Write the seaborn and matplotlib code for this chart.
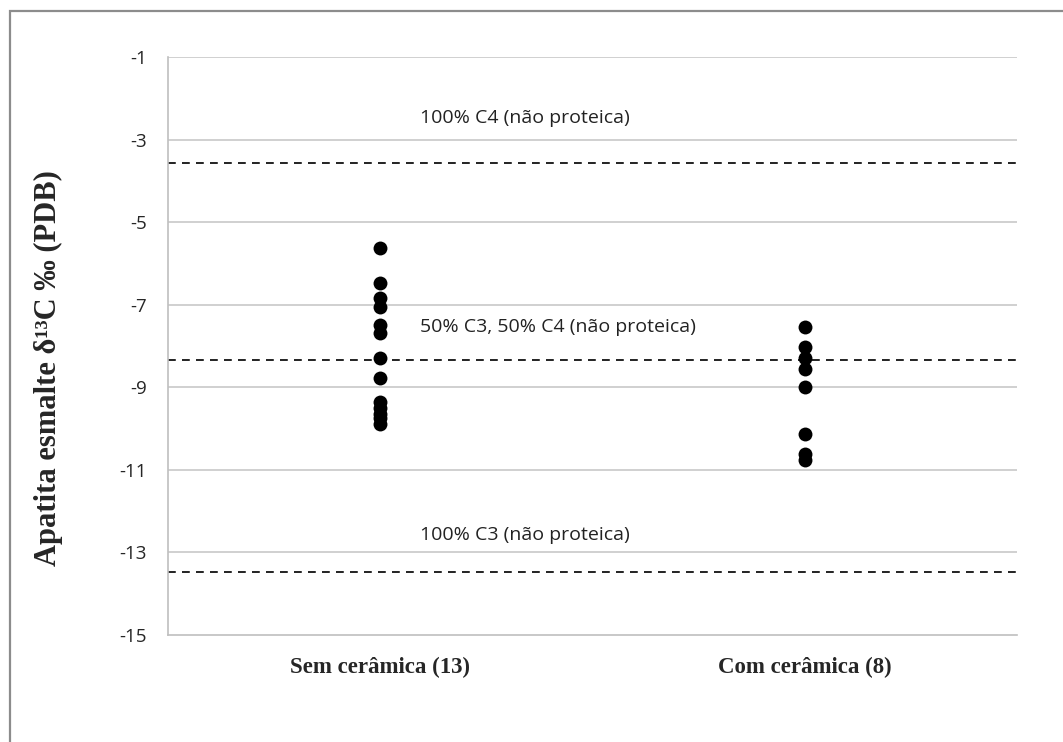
import numpy as np
import pandas as pd
import matplotlib
matplotlib.use('Agg')
import matplotlib.pyplot as plt
from matplotlib.patches import Rectangle
import seaborn as sns

# categories and values
groups = ['Sem cerâmica (13)', 'Com cerâmica (8)']
sem_ceramica = [-5.62, -6.47, -6.84, -7.05, -7.49, -7.68, -8.29, -8.77,
                -9.35, -9.5, -9.65, -9.75, -9.9]
com_ceramica = [-7.54, -8.02, -8.29, -8.55, -8.99, -10.13, -10.61, -10.76]

# reference lines (mixing model) and their labels
ref_values = [-3.56, -8.35, -13.47]
ref_labels = ['100% C4 (não proteica)', '50% C3, 50% C4 (não proteica)',
              '100% C3 (não proteica)']
label_y = [-2.48, -7.55, -12.57]

yticks = [-1, -3, -5, -7, -9, -11, -13, -15]

df = pd.DataFrame({
    'grupo': [groups[0]] * len(sem_ceramica) + [groups[1]] * len(com_ceramica),
    'd13C': sem_ceramica + com_ceramica,
})

sns.set_style('white')

fig = plt.figure(figsize=(10.63, 7.42), dpi=100)
ax = fig.add_axes([0.158, 0.1445, 0.799, 0.7785])

# chart border, cut off at right and bottom like the reference
fig.patches.append(Rectangle((10 / 1063, -0.05), 1.2, 1 - 11 / 742 + 0.05,
                             transform=fig.transFigure, fill=False,
                             edgecolor='#8c8c8c', linewidth=1.6))

for y in yticks[:-1]:
    ax.axhline(y, color='#c8c8c8', linewidth=1.2, zorder=0)

for y, lab, ty in zip(ref_values, ref_labels, label_y):
    ax.axhline(y, color='#222222', linestyle=(0, (4, 3.2)), linewidth=1.4, zorder=1)
    ax.text(0.094, ty, lab, ha='left', va='center', fontsize=14,
            family='Open Sans', color='#222222')

sns.stripplot(data=df, x='grupo', y='d13C', order=groups, jitter=False,
              color='black', size=10, ax=ax, zorder=3)

ax.set_xlim(-0.5, 1.5)
ax.set_ylim(-15, -1)
ax.set_yticks(yticks)
ax.set_yticklabels([str(t) for t in yticks], family='Open Sans', fontsize=13.5)
ax.tick_params(axis='y', length=0, pad=15)
ax.tick_params(axis='x', length=0, pad=16)
for t in ax.get_xticklabels():
    t.set_fontfamily('Liberation Serif')
    t.set_fontweight('bold')
    t.set_fontsize(16.5)

ax.set_xlabel('')
ax.set_ylabel('Apatita esmalte δ¹³C ‰ (PDB)', family='Liberation Serif',
              fontweight='bold', fontsize=22, va='center')
ax.yaxis.set_label_coords(-0.141, 0.461)

for side in ['top', 'right']:
    ax.spines[side].set_visible(False)
for side in ['left', 'bottom']:
    ax.spines[side].set_color('#bfbfbf')
    ax.spines[side].set_linewidth(1.2)

fig.savefig('out.png', dpi=100)
